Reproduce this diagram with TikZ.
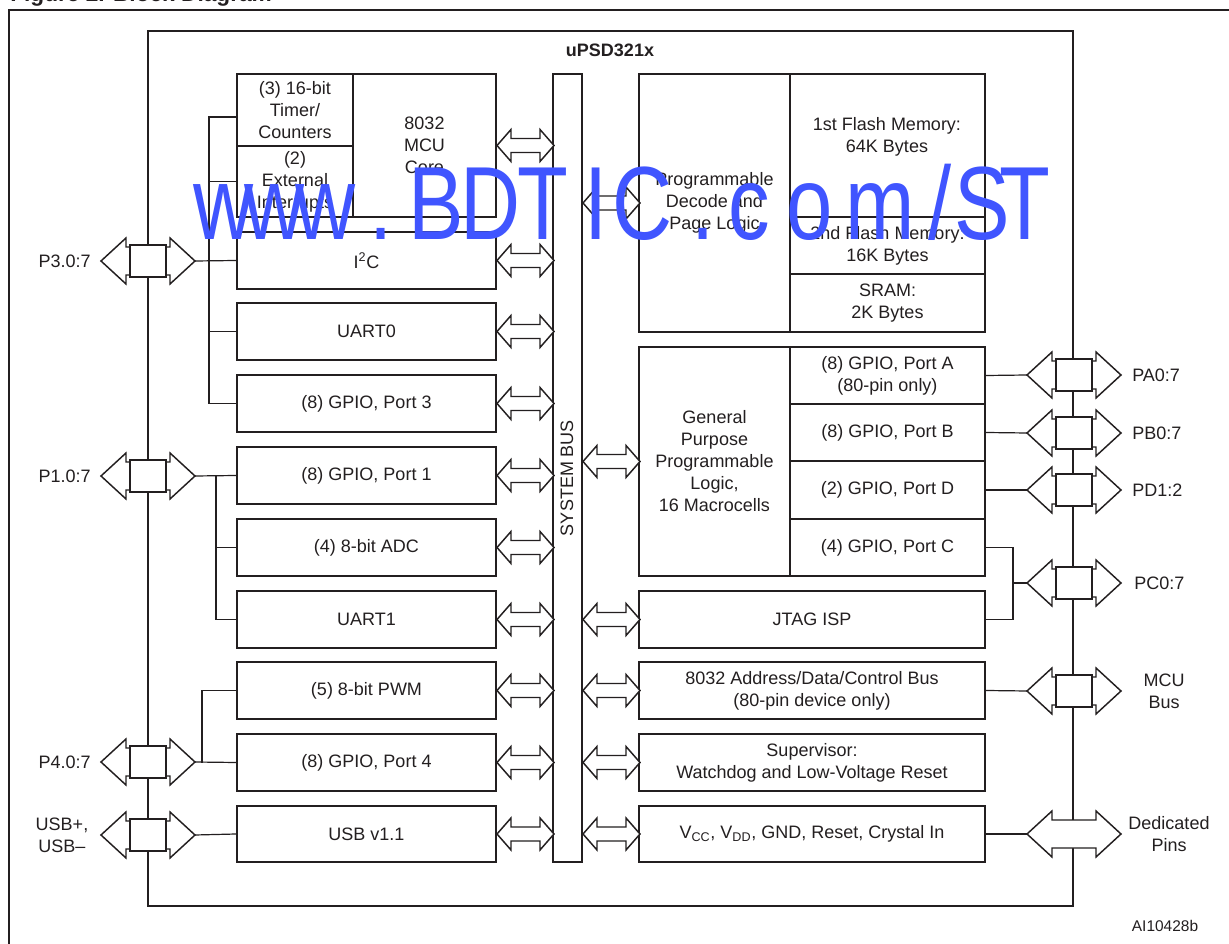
\documentclass[tikz,border=0pt]{standalone}
\usepackage{fontspec}
\setmainfont{Liberation Sans}
\usetikzlibrary{calc}
\definecolor{ink}{RGB}{35,31,32}
\definecolor{wmblue}{RGB}{64,85,255}
\newcommand\fsz{\fontsize{13.5}{16.5}\selectfont}
\newcommand\wmsl{/}
\newcommand\blk[6]{\node[box, minimum width={(#4-#2)*0.75pt}, minimum height={(#5-#3)*0.75pt}] (#1) at ({(#2+#4)/2},{(#3+#5)/2}) {#6};}
\newcommand\portarrow[3]{%
  \coordinate (#3L) at ({#1-47},#2);
  \coordinate (#3R) at ({#1+47},#2);
  \draw[fatarrow] (#3L) -- ++(25,-23) -- ++(0,9) -- ++(44,0) -- ++(0,-9) -- (#3R) -- ++(-25,23) -- ++(0,-9) -- ++(-44,0) -- ++(0,9) -- cycle;}
\newcommand\portbox[3]{\node[pbox] (#3B) at (#1,#2) {};}
\newcommand\busarrow[1]{\draw[fatarrow] (#1) -- ++(14,-16) -- ++(0,9) -- ++(29,0) -- ++(0,-9) -- ++(14,16) -- ++(-14,16) -- ++(0,-9) -- ++(-29,0) -- ++(0,9) -- cycle;}
\begin{document}
\begin{tikzpicture}[x=0.75pt,y=-0.75pt,
  box/.style={draw=ink, line width=1.5pt, fill=white, inner sep=0pt, align=center, font=\fsz, text=ink},
  pbox/.style={draw=ink, line width=1.5pt, fill=white, inner sep=0pt, minimum width=27pt, minimum height=24pt},
  conn/.style={draw=ink, line width=0.9pt},
  fatarrow/.style={draw=ink, line width=1.1pt, fill=white, line join=miter},
  lbl/.style={font=\fsz, text=ink, inner sep=0pt, align=center},
  wm/.style={font=\fontsize{78}{78}\selectfont, text=wmblue, inner sep=0pt}]
\useasboundingbox (0,0) rectangle (1229,944);
\clip (0,0) rectangle (1229,944);
\fill[white] (0,0) rectangle (1229,944);
% header fragment and frame
\node[anchor=base west, font=\bfseries\fontsize{17}{20}\selectfont, text=ink, inner sep=0pt] (hdr) at (10,2) {Figure 2. Block Diagram};
\draw[ink, line width=1.7pt] (9,960) -- (9,10) -- (1240,10);
% chip outline
\draw[ink, line width=1.6pt] (148,31) rectangle (1073,906);
\node[font=\bfseries\fontsize{13.5}{16}\selectfont, text=ink] (chip) at (610,50) {uPSD321x};
% left blocks
\blk{timer}{237}{74}{353}{146}{(3) 16-bit\\Timer/\\Counters}
\blk{extint}{237}{146}{353}{217}{(2)\\External\\Interrupts}
\blk{mcu}{353}{74}{496}{217}{8032\\MCU\\Core}
\blk{i2c}{237}{232}{496}{289}{I\textsuperscript{2}C}
\blk{uart0}{237}{303}{496}{360}{UART0}
\blk{gpio3}{237}{375}{496}{432}{(8) GPIO, Port 3}
\blk{gpio1}{237}{447}{496}{504}{(8) GPIO, Port 1}
\blk{adc}{237}{519}{496}{576}{(4) 8-bit ADC}
\blk{uart1}{237}{591}{496}{648}{UART1}
\blk{pwm}{237}{662}{496}{719}{(5) 8-bit PWM}
\blk{gpio4}{237}{734}{496}{791}{(8) GPIO, Port 4}
\blk{usb}{237}{806}{496}{862}{USB v1.1}
% system bus
\blk{bus}{553}{74}{582}{862}{}
\node[lbl, rotate=90] (bustxt) at (567,478) {SYSTEM BUS};
% right blocks
\blk{decode}{639}{74}{790}{332}{Programmable\\Decode and\\Page Logic}
\blk{mem1}{790}{74}{985}{217}{}
\node[lbl] (mem1t) at (887,137) {1st Flash Memory:\\64K Bytes};
\blk{mem2}{790}{217}{985}{274}{2nd Flash Memory:\\16K Bytes}
\blk{sram}{790}{274}{985}{332}{SRAM:\\2K Bytes}
\blk{gppl}{639}{347}{790}{576}{General\\Purpose\\Programmable\\Logic,\\16 Macrocells}
\blk{porta}{790}{347}{985}{404}{(8) GPIO, Port A\\(80-pin only)}
\blk{portb}{790}{404}{985}{461}{(8) GPIO, Port B}
\blk{portd}{790}{461}{985}{519}{(2) GPIO, Port D}
\blk{portc}{790}{519}{985}{576}{(4) GPIO, Port C}
\blk{jtag}{639}{591}{985}{648}{JTAG ISP}
\blk{addr}{639}{662}{985}{719}{8032 Address/Data/Control Bus\\(80-pin device only)}
\blk{sup}{639}{734}{985}{791}{Supervisor:\\Watchdog and Low-Voltage Reset}
\blk{vcc}{639}{806}{985}{862}{V\textsubscript{CC}, V\textsubscript{DD}, GND, Reset, Crystal In}
% bus arrows
\foreach \b in {mcu,i2c,uart0,gpio3,gpio1,adc,uart1,pwm,gpio4,usb} {\busarrow{\b.east}}
\foreach \b in {decode,gppl,jtag,addr,sup,vcc} {\busarrow{bus.east |- \b.west}}
% port arrows
\portarrow{148}{261}{p3}\portbox{148}{261}{p3}
\portarrow{148}{476}{p1}\portbox{148}{476}{p1}
\portarrow{148}{762}{p4}\portbox{148}{762}{p4}
\portarrow{148}{835}{pu}\portbox{148}{835}{pu}
\portarrow{1074}{375}{pa}\portbox{1074}{375}{pa}
\portarrow{1074}{433}{pb}\portbox{1074}{433}{pb}
\portarrow{1074}{490}{pd}\portbox{1074}{490}{pd}
\portarrow{1074}{583}{pc}\portbox{1074}{583}{pc}
\portarrow{1074}{691}{pm}\portbox{1074}{691}{pm}
\portarrow{1074}{834}{pz}
% left connectors
\coordinate (v3) at (209,0);
\coordinate (v1) at (216,0);
\coordinate (v4) at (202,0);
\coordinate (t7) at ($(timer.west)+(0,7)$);
\draw[conn] (p3R) -- (i2c.west);
\draw[conn] (t7) -- (t7 -| v3) -- (gpio3.west -| v3) -- (gpio3.west);
\draw[conn] (extint.west -| v3) -- (extint.west);
\draw[conn] (uart0.west -| v3) -- (uart0.west);
\draw[conn] (p1R) -- (gpio1.west);
\draw[conn] (gpio1.west -| v1) -- (uart1.west -| v1) -- (uart1.west);
\draw[conn] (adc.west -| v1) -- (adc.west);
\draw[conn] (p4R) -- (gpio4.west);
\draw[conn] (gpio4.west -| v4) -- (pwm.west -| v4) -- (pwm.west);
\draw[conn] (puR) -- (usb.west);
% right connectors
\coordinate (vc) at (1013,0);
\draw[conn] (porta.east) -- (paL);
\draw[conn] (portb.east) -- (pbL);
\draw[conn] (portd.east) -- (pdL);
\draw[conn] (portc.east) -- (portc.east -| vc) -- (jtag.east -| vc) -- (jtag.east);
\draw[conn] (pcL) -- (pcL -| vc);
\draw[conn] (addr.east) -- (pmL);
\draw[conn] (vcc.east) -- (pzL);
% port labels
\node[lbl, anchor=east] (l3) at (91,261) {P3.0:7};
\node[lbl, anchor=east] (l1) at (91,476) {P1.0:7};
\node[lbl, anchor=east] (l4) at (91,762) {P4.0:7};
\node[lbl] (lu) at (62,835) {USB+,\\USB--};
\node[lbl, anchor=west] (la) at (1132,375) {PA0:7};
\node[lbl, anchor=west] (lb) at (1132,433) {PB0:7};
\node[lbl, anchor=west] (ld) at (1132,490) {PD1:2};
\node[lbl, anchor=west] (lc) at (1134,583) {PC0:7};
\node[lbl] (lm) at (1164,691) {MCU\\Bus};
\node[lbl] (lz) at (1169,834) {Dedicated\\Pins};
\node[lbl, font=\fontsize{11.6}{14}\selectfont] (code) at (1165,926) {AI10428b};
% watermark
\foreach \c/\xx [count=\i] in {w/224,w/275,w/326,./381,B/436,D/491,T/543,I/596,C/643,./703,c/749,o/810,m/880,\wmsl/940,S/982,T/1025}
  {\node[wm, anchor=base] (wm\i) at (\xx,240) {\scalebox{0.8}[1]{\c}};}
\end{tikzpicture}
\end{document}
